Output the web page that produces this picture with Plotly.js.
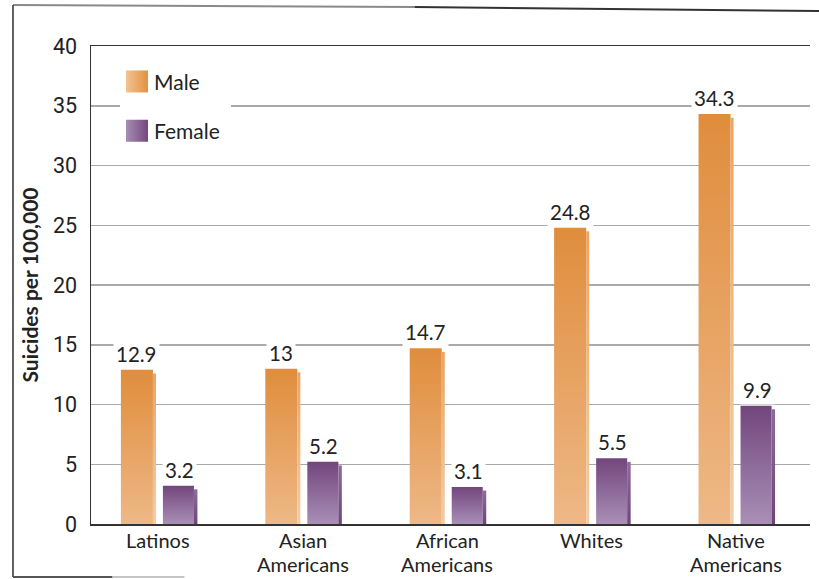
<!DOCTYPE html>
<html>
<head>
<meta charset="utf-8">
<script src="https://cdn.plot.ly/plotly-3.0.1.min.js"></script>
<style>
  html, body { margin: 0; padding: 0; background: #fff; }
  #chart { width: 819px; height: 579px; }
</style>
</head>
<body>
<div id="chart"></div>
<script>
// ---- data ----
var categories = ["Latinos", "Asian<br>Americans", "African<br>Americans", "Whites", "Native<br>Americans"];
var maleValues = [12.9, 13, 14.7, 24.8, 34.3];
var femaleValues = [3.2, 5.2, 3.1, 5.5, 9.9];
var seriesNames = ["Male", "Female"];
var yTicks = [0, 5, 10, 15, 20, 25, 30, 35, 40];

// ---- style ----
var maleColor = "#E3964A";
var femaleColor = "#8A6597";
var bevelCut = 0.3;

function minus(arr, d) { return arr.map(function (v) { return v - d; }); }

var traces = [
  { type: "bar", name: seriesNames[0], legendgroup: "m", x: categories, y: maleValues,
    offset: -0.26, width: 0.222, marker: { color: maleColor, line: { width: 0 } }, hoverinfo: "skip" },
  { type: "bar", name: seriesNames[1], legendgroup: "f", x: categories, y: femaleValues,
    offset: 0.031, width: 0.215, marker: { color: femaleColor, line: { width: 0 } }, hoverinfo: "skip" },
  { type: "bar", showlegend: false, x: categories, y: minus(maleValues, bevelCut),
    offset: -0.038, width: 0.021, marker: { color: "#EDB27A", line: { width: 0 } }, hoverinfo: "skip" },
  { type: "bar", showlegend: false, x: categories, y: minus(femaleValues, bevelCut),
    offset: 0.246, width: 0.024, marker: { color: "#7D5689", line: { width: 0 } }, hoverinfo: "skip" }
];

var textFamily = "Lato, 'Open Sans', sans-serif";
var labelFont = { family: textFamily, size: 20.5, color: "#222" };
var annotations = [];
categories.forEach(function (c, i) {
  annotations.push({ x: c, y: maleValues[i], xref: "x", yref: "y", text: String(maleValues[i]),
    showarrow: false, yanchor: "bottom", xshift: -21.5, yshift: 1, bgcolor: "#fff", borderpad: 2, font: labelFont });
  annotations.push({ x: c, y: femaleValues[i], xref: "x", yref: "y", text: String(femaleValues[i]),
    showarrow: false, yanchor: "bottom", xshift: 21, yshift: 1, bgcolor: "#fff", borderpad: 2, font: labelFont });
  // category label, one annotation per line (tighter line spacing than tick labels)
  c.split("<br>").forEach(function (line, k) {
    annotations.push({ x: c, y: 0, xref: "x", yref: "paper", text: line, showarrow: false,
      yanchor: "middle", yshift: -16 - 24 * k, borderpad: 0,
      font: { family: textFamily, size: 20, color: "#222" } });
  });
});

var frameShapes = [
  { type: "line", xref: "paper", yref: "paper", x0: -0.1085, y0: 1.0858, x1: 0.45, y1: 1.0815, line: { color: "#8a8a8a", width: 2 } },
  { type: "line", xref: "paper", yref: "paper", x0: 0.45, y0: 1.0815, x1: 1.0125, y1: 1.0732, line: { color: "#333", width: 2 } },
  { type: "line", xref: "paper", yref: "paper", x0: -0.1085, y0: 1.0858, x1: -0.1085, y1: -0.1109, line: { color: "#3a3a3a", width: 1.6 } },
  { type: "line", xref: "paper", yref: "paper", x0: -0.1085, y0: -0.1109, x1: 0.03, y1: -0.1109, line: { color: "#555", width: 2 } },
  { type: "line", xref: "paper", yref: "paper", x0: 0.03, y0: -0.1109, x1: 0.13, y1: -0.1109, line: { color: "#c4c4c4", width: 2 } }
];

var layout = {
  width: 819, height: 579,
  margin: { l: 91, r: 9, t: 46, b: 55, pad: 0 },
  paper_bgcolor: "#fff", plot_bgcolor: "#fff",
  barmode: "overlay",
  showlegend: true,
  legend: {
    x: 0.032, y: 0.968, xanchor: "left", yanchor: "top",
    bgcolor: "#fff", borderwidth: 0,
    font: { family: textFamily, size: 21, color: "#222" },
    tracegroupgap: 19, traceorder: "grouped", itemwidth: 30
  },
  xaxis: {
    type: "category", range: [-0.467, 4.512],
    showline: true, linecolor: "#333", linewidth: 1.5, mirror: true,
    showgrid: false, ticks: "", zeroline: false, showticklabels: false
  },
  yaxis: {
    range: [0, 40], tickvals: yTicks, ticktext: yTicks.map(String),
    showline: true, linecolor: "#333", linewidth: 1.5,
    showgrid: true, gridcolor: "#a9a9a9", gridwidth: 1.5,
    zeroline: false, ticks: "", ticklabelstandoff: 8,
    tickfont: { family: "Roboto, 'Liberation Sans', sans-serif", size: 21.5, color: "#222" },
    title: { text: "<b>Suicides per 100,000</b>", standoff: 8,
      font: { family: textFamily, size: 21, color: "#222" } }
  },
  annotations: annotations,
  shapes: frameShapes
};

Plotly.newPlot("chart", traces, layout, { staticPlot: true }).then(function (gd) {
  var svgNS = "http://www.w3.org/2000/svg";
  var svg = gd.querySelector(".main-svg");
  var defs = svg.querySelector("defs") || svg.insertBefore(document.createElementNS(svgNS, "defs"), svg.firstChild);
  function grad(id, x2, y2, c0, c1) {
    var g = document.createElementNS(svgNS, "linearGradient");
    g.setAttribute("id", id);
    g.setAttribute("x1", "0"); g.setAttribute("y1", "0");
    g.setAttribute("x2", x2); g.setAttribute("y2", y2);
    [[0, c0], [1, c1]].forEach(function (s) {
      var st = document.createElementNS(svgNS, "stop");
      st.setAttribute("offset", s[0]);
      st.setAttribute("stop-color", s[1]);
      g.appendChild(st);
    });
    defs.appendChild(g);
  }
  grad("gMale", "0", "1", "#E08D3C", "#EEB887");
  grad("gFemale", "0", "1", "#72467D", "#A98FB6");
  grad("gMaleBev", "0", "1", "#E9A566", "#F3CDA6");
  grad("gFemBev", "0", "1", "#8E6B9B", "#6E4579");
  grad("gLegMale", "1", "0", "#F2C392", "#E29141");
  grad("gLegFemale", "1", "0", "#A88DB4", "#74487E");
  var fills = ["url(#gMale)", "url(#gFemale)", "url(#gMaleBev)", "url(#gFemBev)"];
  gd.querySelectorAll(".barlayer .trace").forEach(function (t, i) {
    t.querySelectorAll("path").forEach(function (p) { p.style.fill = fills[i]; });
  });

  // legend swatches: larger gradient squares
  var legFills = ["url(#gLegMale)", "url(#gLegFemale)"];
  var swatchLeft = 126, swatchSize = 22;
  gd.querySelectorAll(".legend .traces").forEach(function (t, i) {
    var lp = t.querySelector(".legendpoints");
    lp.querySelectorAll("path").forEach(function (p) { p.style.opacity = 0; });
    var r = document.createElementNS(svgNS, "rect");
    r.setAttribute("x", -11); r.setAttribute("y", -11);
    r.setAttribute("width", swatchSize); r.setAttribute("height", swatchSize);
    r.style.fill = legFills[i];
    lp.appendChild(r);
    var box = r.getBoundingClientRect();
    r.setAttribute("x", -11 + (swatchLeft - box.left));
  });
  // legend background: from just left of swatches to just right of text
  var bg = gd.querySelector(".legend .bg");
  if (bg) {
    var bb = bg.getBoundingClientRect();
    var maxRight = 0;
    gd.querySelectorAll(".legend .legendtext").forEach(function (tx) {
      maxRight = Math.max(maxRight, tx.getBoundingClientRect().right);
    });
    var targetLeft = swatchLeft - 6, targetRight = maxRight + 11;
    var ox = parseFloat(bg.getAttribute("x") || 0);
    bg.setAttribute("x", ox + (targetLeft - bb.left));
    bg.setAttribute("width", targetRight - targetLeft);
  }
});
</script>
</body>
</html>
